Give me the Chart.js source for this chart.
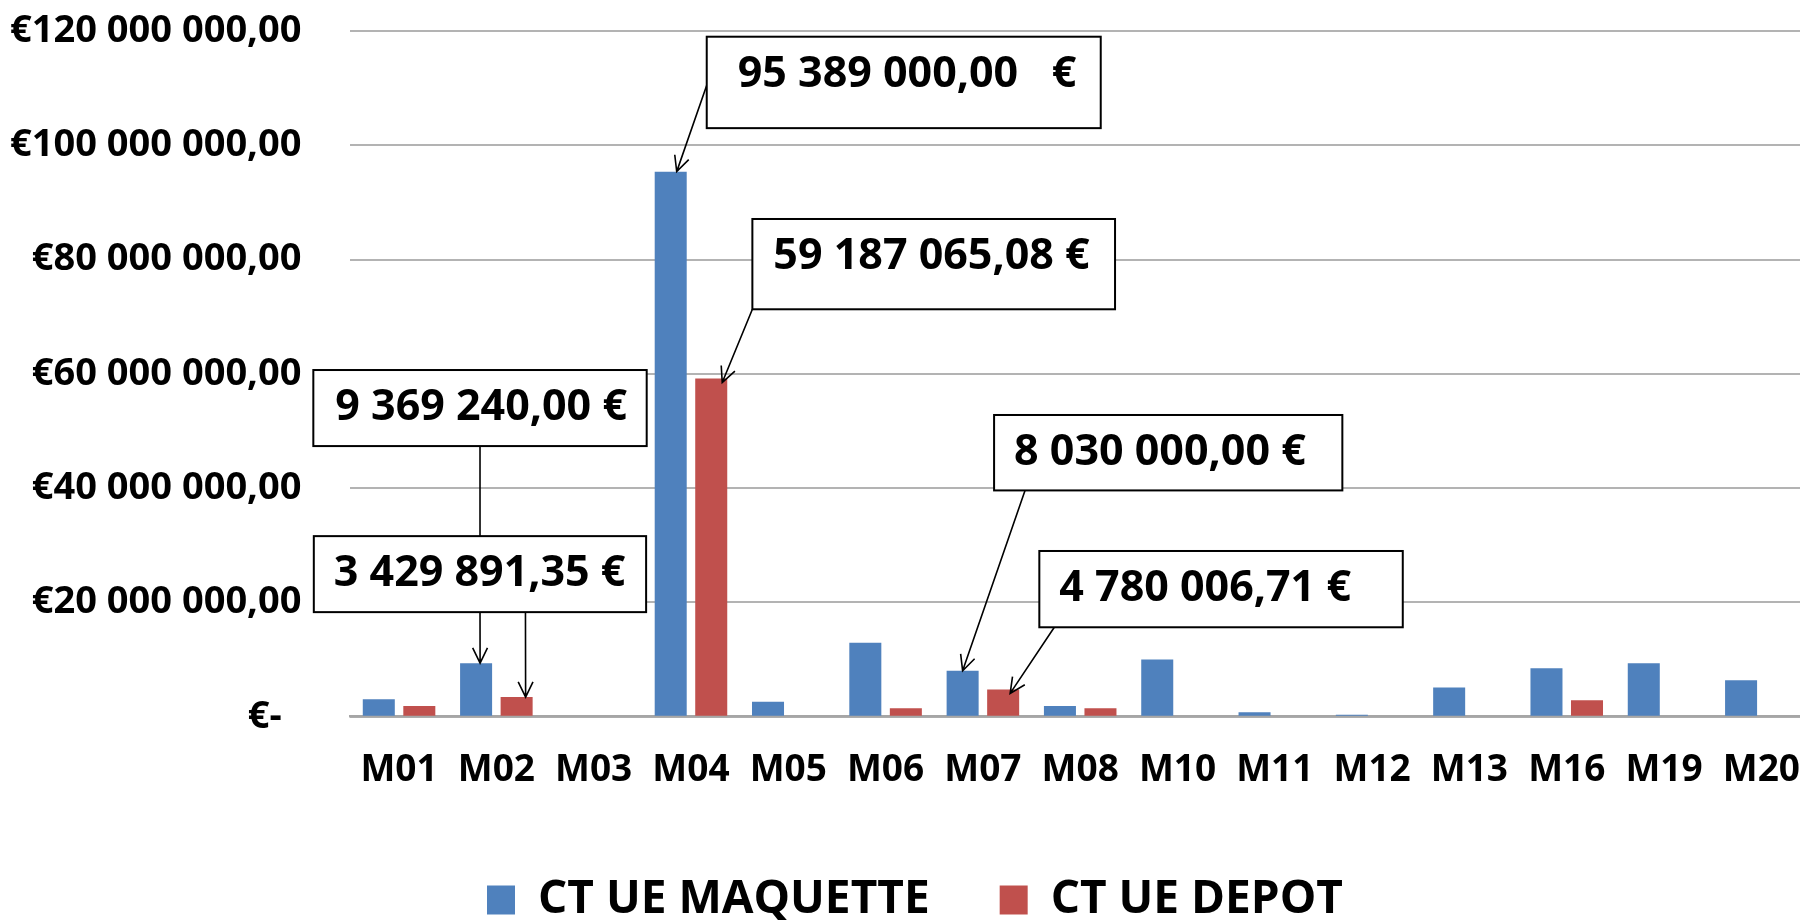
<!DOCTYPE html>
<html>
<head>
<meta charset="utf-8">
<script src="https://cdn.jsdelivr.net/npm/chart.js@4.4.1/dist/chart.umd.min.js"></script>
<style>
  html, body { margin: 0; padding: 0; background: #fff; overflow: hidden; }
</style>
</head>
<body>
<canvas id="myChart" width="1812" height="933"></canvas>
<script>
// data
const categories = ['M01', 'M02', 'M03', 'M04', 'M05', 'M06', 'M07', 'M08', 'M10', 'M11', 'M12', 'M13', 'M16', 'M19', 'M20'];
const maquette = [3050000, 9369240, 0, 95389000, 2600000, 12950000, 8030000, 1870000, 10000000, 770000, 350000, 5100000, 8500000, 9350000, 6400000];
const depot = [1870000, 3429891.35, 0, 59187065.08, 0, 1470000, 4780006.71, 1500000, 0, 0, 0, 0, 2870000, 0, 0];
const seriesNames = ['CT UE MAQUETTE', 'CT UE DEPOT'];

const FONT = '"Open Sans", "Liberation Sans", sans-serif';

function euro(v) {
  if (v === 0) return '€-  ';
  return '€' + v.toFixed(2).replace('.', ',').replace(/\B(?=(\d{3})+(?!\d))/g, ' ');
}

// callout boxes, placed in axis units (category index, value)
const callouts = [
  { text: '95 389 000,00   €', box: [3.162, 7.211, 119.0e6, 103.0e6], pad: 31,
    arrows: [{ from: [3.162, 110.5e6], ds: 0, idx: 3, dx: 6, dy: 0 }] },
  { text: '59 187 065,08 €', box: [3.631, 7.358, 87.1e6, 71.3e6], pad: 21,
    arrows: [{ from: [3.631, 71.3e6], ds: 1, idx: 3, dx: 11, dy: 4 }] },
  { text: '9 369 240,00 €', box: [-0.881, 2.545, 60.67e6, 47.36e6], pad: 22,
    lines: [{ from: [0.832, 47.36e6], to: [0.832, 31.6e6] }] },
  { text: '3 429 891,35 €', box: [-0.876, 2.539, 31.6e6, 18.3e6], pad: 20,
    arrows: [{ from: [0.832, 18.3e6], ds: 0, idx: 1, dx: 4, dy: 0 },
             { from: [1.299, 18.3e6], ds: 1, idx: 1, dx: 9, dy: 0 }] },
  { text: '8 030 000,00 €', box: [6.115, 9.694, 52.8e6, 39.6e6], pad: 20,
    arrows: [{ from: [6.433, 39.6e6], ds: 0, idx: 6, dx: 0, dy: 0 }] },
  { text: '4 780 006,71 €', box: [6.58, 10.315, 29.0e6, 15.65e6], pad: 20,
    arrows: [{ from: [6.734, 15.65e6], ds: 1, idx: 6, dx: 7, dy: 4 }] },
];

function arrow(ctx, x0, y0, x1, y1) {
  ctx.beginPath();
  ctx.moveTo(x0, y0);
  ctx.lineTo(x1, y1);
  const a = Math.atan2(y1 - y0, x1 - x0);
  const len = 17, spread = 0.45;
  ctx.moveTo(x1 - len * Math.cos(a - spread), y1 - len * Math.sin(a - spread));
  ctx.lineTo(x1, y1);
  ctx.lineTo(x1 - len * Math.cos(a + spread), y1 - len * Math.sin(a + spread));
  ctx.stroke();
}

const calloutPlugin = {
  id: 'callouts',
  afterLayout(chart) {
    // the legend sits a little right of the canvas centre
    chart.legend.left += 10;
    chart.legend.right += 10;
  },
  afterDatasetsDraw(chart) {
    const ctx = chart.ctx;
    const xs = chart.scales.x, ys = chart.scales.y;
    ctx.save();
    ctx.strokeStyle = '#000';
    ctx.lineWidth = 1.6;
    callouts.forEach(c => {
      (c.lines || []).forEach(l => {
        ctx.beginPath();
        ctx.moveTo(xs.getPixelForValue(l.from[0]), ys.getPixelForValue(l.from[1]));
        ctx.lineTo(xs.getPixelForValue(l.to[0]), ys.getPixelForValue(l.to[1]));
        ctx.stroke();
      });
      (c.arrows || []).forEach(a => {
        const bar = chart.getDatasetMeta(a.ds).data[a.idx];
        arrow(ctx, xs.getPixelForValue(a.from[0]), ys.getPixelForValue(a.from[1]), bar.x + a.dx, bar.y + a.dy);
      });
    });
    callouts.forEach(c => {
      const l = xs.getPixelForValue(c.box[0]);
      const r = xs.getPixelForValue(c.box[1]);
      const t = ys.getPixelForValue(c.box[2]);
      const b = ys.getPixelForValue(c.box[3]);
      ctx.fillStyle = '#fff';
      ctx.fillRect(l, t, r - l, b - t);
      ctx.lineWidth = 2;
      ctx.strokeRect(l, t, r - l, b - t);
      ctx.fillStyle = '#000';
      ctx.font = 'bold 43px ' + FONT;
      ctx.textAlign = 'left';
      ctx.textBaseline = 'middle';
      ctx.fillText(c.text, l + c.pad, t + 38);
    });
    ctx.restore();
  }
};

new Chart('myChart', {
  type: 'bar',
  data: {
    labels: categories,
    datasets: [
      { label: seriesNames[0], data: maquette, backgroundColor: '#4F81BD' },
      { label: seriesNames[1], data: depot, backgroundColor: '#C0504D' },
    ],
  },
  options: {
    responsive: false,
    animation: false,
    categoryPercentage: 0.833,
    barPercentage: 0.79,
    layout: { padding: { top: 31, right: 2, left: 0, bottom: 0 } },
    plugins: {
      tooltip: { enabled: false },
      legend: {
        position: 'bottom',
        labels: {
          color: '#000',
          font: { family: FONT, size: 46, weight: 'bold' },
          boxWidth: 28,
          boxHeight: 29,
          padding: 70,
        },
      },
    },
    scales: {
      x: {
        grid: { display: true, drawOnChartArea: false, color: 'rgba(0,0,0,0)', drawTicks: true, tickLength: 32, tickColor: 'rgba(0,0,0,0)' },
        border: { display: true, color: '#a6a6a6', width: 2.5 },
        ticks: { color: '#000', padding: 0, maxRotation: 0, autoSkip: false, font: { family: FONT, size: 37, weight: 'bold' } },
        afterFit(scale) { scale.height = 90.3; },
      },
      y: {
        min: 0,
        max: 120000000,
        grid: { color: '#b3b3b3', lineWidth: 2, drawTicks: true, tickLength: 49, tickColor: 'rgba(0,0,0,0)' },
        border: { display: false },
        ticks: {
          stepSize: 20000000,
          color: '#000',
          padding: 0,
          font: { family: FONT, size: 38, weight: 'bold' },
          callback: v => euro(v),
        },
        afterFit(scale) { scale.width = 350.4; },
      },
    },
  },
  plugins: [calloutPlugin],
});
</script>
</body>
</html>
